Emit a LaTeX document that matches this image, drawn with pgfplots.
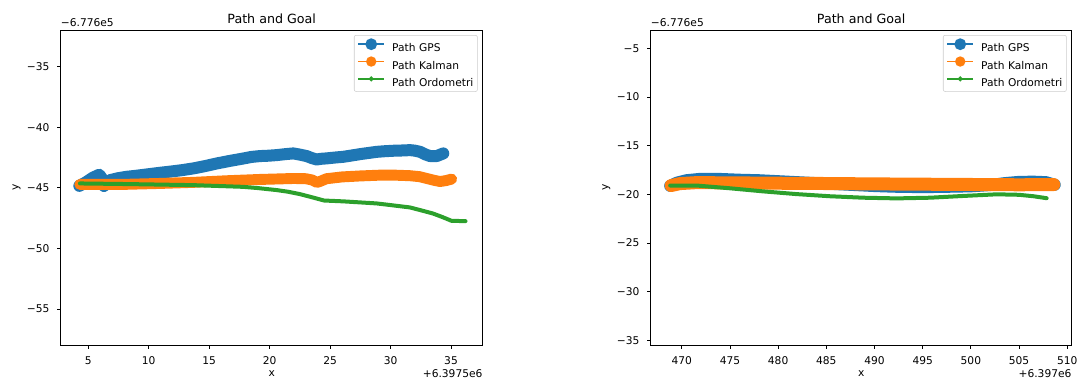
\documentclass[border=0pt]{standalone}
\usepackage{fontspec}
\setmainfont{DejaVu Sans}
\usepackage{pgfplots}
\pgfplotsset{compat=1.18}
\definecolor{tabblue}{HTML}{1F77B4}
\definecolor{taborange}{HTML}{FF7F0E}
\definecolor{tabgreen}{HTML}{2CA02C}
\definecolor{legframe}{HTML}{CCCCCC}
\newcommand{\tfont}{\fontsize{8}{9.6}\selectfont}
\newcommand{\titlefont}{\fontsize{9.5}{11.4}\selectfont}

\pgfplotsset{
  panel/.style={
    scale only axis, height=236.25pt,
    axis line style={line width=0.6pt, black},
    tick style={line width=0.6pt, black},
    tick align=outside, major tick length=2.73pt,
    tick pos=left,
    ticklabel style={font=\tfont, inner sep=0pt},
    xticklabel style={anchor=north, yshift=-5.5pt},
    yticklabel style={anchor=east, xshift=-5.5pt},
    legend cell align=left,
    legend style={at={(rel axis cs:1,1)}, anchor=north east, xshift=-3.75pt, yshift=-3.75pt,
      draw=legframe, rounded corners=1.5pt, fill=white,
      font=\tfont, inner xsep=3pt, inner ysep=2.4pt, row sep=1.6pt, column sep=6pt,
      nodes={inner sep=0pt, text height=7.1pt, text depth=1.5pt}},
  },
  legimg/.style={mark=*, mark options={solid}, line width=1.3pt,
    legend image code/.code={%
      \pgfpathrectangle{\pgfpoint{0pt}{-1.5pt}}{\pgfpoint{19.5pt}{8.6pt}}%
      \pgfusepath{use as bounding box}%
      \draw[line width=1.3pt, mark repeat=2, mark phase=2]
      plot coordinates {(0pt,2.8pt) (9.75pt,2.8pt) (19.5pt,2.8pt)};}},
  gps/.style={color=tabblue, line width=9pt, line join=round, line cap=round, mark=none, forget plot},
  kal/.style={color=taborange, line width=8.2pt, line join=round, line cap=round, mark=none, forget plot},
  odo/.style={color=tabgreen, line width=3pt, line join=round, line cap=round, mark=none, forget plot},
}

\begin{document}
\begin{tikzpicture}[x=0.75pt,y=0.75pt]
\path[use as bounding box] (0,0) rectangle (1078,380);

% ---------------- left panel ----------------
\begin{axis}[panel, width=316.5pt, at={(45.525pt,26.25pt)}, anchor=south west,
  xmin=2.72, xmax=37.62, ymin=-57.98, ymax=-31.97,
  xtick={5,10,15,20,25,30,35}, xticklabels={5,10,15,20,25,30,35},
  ytick={-55,-50,-45,-40,-35}, yticklabels={−55,−50,−45,−40,−35}]
\addplot[gps] coordinates {
(4.26,-44.84) (4.8,-44.55) (5.4,-44.15) (5.91,-43.92) (6.15,-44.25) (6.3,-44.85) (6.79,-44.37)
(7.5,-44.2) (8.18,-44.09) (9.0,-44.0) (9.8,-43.9) (10.93,-43.76) (11.8,-43.66) (12.7,-43.55)
(13.68,-43.40) (14.6,-43.22) (15.62,-42.99) (16.7,-42.78) (17.82,-42.58) (18.5,-42.45) (19.20,-42.38)
(19.9,-42.35) (20.58,-42.30) (21.3,-42.22) (21.96,-42.16) (22.5,-42.26) (23.06,-42.38) (23.5,-42.55)
(23.89,-42.66) (24.3,-42.6) (24.72,-42.57) (25.4,-42.5) (26.09,-42.44) (26.8,-42.33) (27.47,-42.22)
(28.2,-42.12) (28.85,-42.03) (29.5,-41.98) (30.23,-41.94) (30.9,-41.92) (31.61,-41.89) (32.0,-41.93)
(32.44,-42.03) (32.9,-42.25) (33.26,-42.38) (33.82,-42.38) (34.36,-42.16)
};
\addplot[kal] coordinates {
(4.3,-44.72) (6.0,-44.72) (8.2,-44.71) (10.9,-44.64) (13.7,-44.55) (16.4,-44.42) (19.2,-44.31)
(22.0,-44.23) (23.0,-44.25) (23.5,-44.35) (23.9,-44.55) (24.1,-44.5) (24.7,-44.25) (26.0,-44.1)
(27.5,-44.02) (29.0,-43.96) (30.2,-43.95) (31.6,-44.0) (32.4,-44.08) (33.0,-44.23) (33.6,-44.38)
(34.1,-44.48) (34.6,-44.4) (35.05,-44.28)
};
\addplot[odo] coordinates {
(4.31,-44.64) (8.2,-44.69) (13.7,-44.78) (17.8,-44.92) (19.0,-45.02) (20.6,-45.19) (21.5,-45.32)
(22.5,-45.52) (23.5,-45.78) (24.5,-46.05) (26.1,-46.12) (28.85,-46.29) (30.2,-46.45) (31.6,-46.62)
(32.6,-46.88) (33.5,-47.12) (34.3,-47.42) (35.05,-47.73) (36.2,-47.75)
};
\addlegendimage{legimg, color=tabblue, mark size=3.75pt}
\addlegendentry{Path GPS}
\addlegendimage{legimg, color=taborange, mark size=3.2pt}
\addlegendentry{Path Kalman}
\addlegendimage{legimg, color=tabgreen, mark size=1.1pt}
\addlegendentry{Path Ordometri}
\end{axis}

% ---------------- right panel ----------------
\begin{axis}[panel, width=315.75pt, at={(488.025pt,26.25pt)}, anchor=south west,
  xmin=466.78, xmax=510.46, ymin=-35.5, ymax=-3.1,
  xtick={470,475,480,485,490,495,500,505,510}, xticklabels={470,475,480,485,490,495,500,505,510},
  ytick={-35,-30,-25,-20,-15,-10,-5}, yticklabels={−35,−30,−25,−20,−15,−10,−5}]
\addplot[gps] coordinates {
(468.8,-19.13) (469.5,-18.8) (470.5,-18.55) (472.0,-18.4) (474.0,-18.42) (476.0,-18.5) (478.0,-18.55)
(480.0,-18.65) (482.0,-18.75) (484.0,-18.85) (486.0,-18.95) (488.0,-19.05) (490.0,-19.15) (492.0,-19.22)
(494.0,-19.25) (496.0,-19.25) (498.0,-19.22) (500.0,-19.18) (502.0,-19.05) (503.5,-18.85) (505.0,-18.72)
(506.5,-18.7) (507.8,-18.75) (508.7,-19.02)
};
\addplot[kal, line width=9.75pt] coordinates {
(468.9,-19.1) (469.8,-18.9) (471.5,-18.8) (475.0,-18.82) (480.0,-18.86) (485.0,-18.89) (490.0,-18.93)
(495.0,-18.96) (500.0,-18.99) (505.0,-19.02) (508.6,-19.0)
};
\addplot[odo] coordinates {
(468.8,-19.1) (471.56,-19.1) (475.0,-19.38) (478.47,-19.7) (481.93,-19.98) (485.38,-20.2)
(488.84,-20.35) (492.3,-20.42) (495.76,-20.35) (499.2,-20.17) (502.68,-20.0) (505.0,-20.05)
(506.5,-20.2) (507.86,-20.4)
};
\addlegendimage{legimg, color=tabblue, mark size=3.75pt}
\addlegendentry{Path GPS}
\addlegendimage{legimg, color=taborange, mark size=3.2pt}
\addlegendentry{Path Kalman}
\addlegendimage{legimg, color=tabgreen, mark size=1.1pt}
\addlegendentry{Path Ordometri}
\end{axis}

% ---------------- titles, labels, offset texts ----------------
\node[font=\titlefont, anchor=base] at (271.7,357) {Path and Goal};
\node[font=\titlefont, anchor=base] at (861.2,357) {Path and Goal};
\node[font=\tfont, anchor=base west, inner sep=0pt] at (60.7,354) {−6.776e5};
\node[font=\tfont, anchor=base west, inner sep=0pt] at (650.7,354) {−6.776e5};
\node[font=\tfont, anchor=base east, inner sep=0pt] at (482.7,2.5) {+6.3975e6};
\node[font=\tfont, anchor=base east, inner sep=0pt] at (1071.7,2.5) {+6.397e6};
\node[font=\tfont, anchor=base, inner sep=0pt] at (271.7,3.2) {x};
\node[font=\tfont, anchor=base, inner sep=0pt] at (861.2,3.2) {x};
\node[font=\tfont, anchor=base, inner sep=0pt, rotate=90] at (18.5,192.5) {y};
\node[font=\tfont, anchor=base, inner sep=0pt, rotate=90] at (608,192.5) {y};
\end{tikzpicture}
\end{document}
